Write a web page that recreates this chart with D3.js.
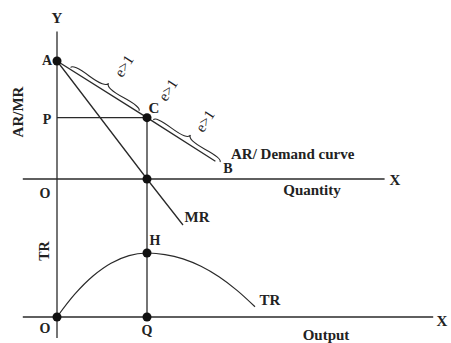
<!DOCTYPE html>
<html><head><meta charset="utf-8">
<script src="https://cdn.jsdelivr.net/npm/d3@7"></script>
<style>
html,body{margin:0;padding:0;background:#fff;}
svg text{font-family:"Liberation Serif","DejaVu Serif",serif;font-weight:bold;fill:#222;}
</style></head>
<body><svg id="c" width="451" height="343"></svg>
<script>
// Data (conceptual units)
const demandQ = [0, 5, 8.8];
const demandAR = [10, 5.2, 1.5];
const mrQ = [0, 5, 7];
const mrVal = [10, 0, -3.9];
const trQ = [0, 1, 2, 3, 4, 5, 6, 7, 8, 9, 10, 11];
const trVal = [0, 9, 16, 21, 24, 25, 24.4, 22.7, 19.8, 15.7, 10.4, 4.0];
const eqQ = 5;          // Q output where MR = 0
const elasticLabels = ["e>1", "e>1", "e>1"];

const svg = d3.select("#c");
const x = d3.scaleLinear().domain([0, 10]).range([57, 237]);
const yTop = d3.scaleLinear().domain([0, 10]).range([179, 61]);
const yBot = d3.scaleLinear().domain([0, 25]).range([317, 253]);

const ink = "#2a2a2a";
const line = (pts) => svg.append("path").attr("d", d3.line()(pts))
  .attr("fill", "none").attr("stroke", ink).attr("stroke-width", 1.3);

// axes
line([[x(0), yTop(12.5)], [x(0), yBot(-8.2)]]);          // Y axis
line([[x(-1.9), yTop(0)], [x(18.2), yTop(0)]]);          // upper X
line([[x(-1.9), yBot(0)], [x(20.9), yBot(0)]]);          // lower X

// demand / AR
const arPts = demandQ.map((q, i) => [x(q), yTop(demandAR[i])]);
line(arPts);
// MR
line(mrQ.map((q, i) => [x(q), yTop(mrVal[i])]));
// P horizontal
const cAR = demandAR[1];
line([[x(0), yTop(cAR)], [x(eqQ), yTop(cAR)]]);
// vertical C -> Q
line([[x(eqQ), yTop(cAR)], [x(eqQ), yBot(0)]]);
// TR curve
svg.append("path")
  .attr("d", d3.line().curve(d3.curveCatmullRom)(trQ.map((q, i) => [x(q), yBot(trVal[i])])))
  .attr("fill", "none").attr("stroke", ink).attr("stroke-width", 1.2);

// braces along AR line
const arAt = q => {
  const s = (demandAR[2] - demandAR[0]) / (demandQ[2] - demandQ[0]);
  return demandAR[0] + s * q;
};
function brace(x1, y1, x2, y2, w, q) {
  let dx = x1 - x2, dy = y1 - y2; const len = Math.hypot(dx, dy);
  dx /= len; dy /= len;
  const qx1 = x1 + q * w * dy, qy1 = y1 - q * w * dx;
  const qx2 = (x1 - .25 * len * dx) + (1 - q) * w * dy, qy2 = (y1 - .25 * len * dy) - (1 - q) * w * dx;
  const tx1 = (x1 - .5 * len * dx) + w * dy, ty1 = (y1 - .5 * len * dy) - w * dx;
  const qx3 = x2 + q * w * dy, qy3 = y2 - q * w * dx;
  const qx4 = (x1 - .75 * len * dx) + (1 - q) * w * dy, qy4 = (y1 - .75 * len * dy) - (1 - q) * w * dx;
  return `M${x1},${y1}Q${qx1},${qy1} ${qx2},${qy2}T${tx1},${ty1}M${x2},${y2}Q${qx3},${qy3} ${qx4},${qy4}T${tx1},${ty1}`;
}
[[0.7, 4.5], [5.3, 9.0]].forEach(([a, b]) => {
  const p1 = [x(a) + 1, yTop(arAt(a)) - 1.5], p2 = [x(b) + 1, yTop(arAt(b)) - 1.5];
  svg.append("path").attr("d", brace(p1[0], p1[1], p2[0], p2[1], -7, 0.6))
    .attr("fill", "none").attr("stroke", ink).attr("stroke-width", 1.1);
});

// elasticity labels, perpendicular to line
const ang = Math.atan2(yTop(demandAR[2]) - yTop(demandAR[0]), x(demandQ[2]) - x(demandQ[0])) * 180 / Math.PI;
[[124, 66], [168, 90], [205, 121]].forEach(([px, py], i) => {
  svg.append("text").attr("transform", `translate(${px},${py}) rotate(${ang - 90})`)
    .attr("text-anchor", "middle").attr("dominant-baseline", "central")
    .attr("font-size", 15).style("font-weight", "normal").text(elasticLabels[i]);
});

// dots
const dots = [[x(0), yTop(10)], [x(eqQ), yTop(cAR)], [x(eqQ), yTop(0)], [x(eqQ), yBot(25)], [x(0), yBot(0)], [x(eqQ), yBot(0)]];
svg.selectAll("circle.d").data(dots).enter().append("circle")
  .attr("cx", d => d[0]).attr("cy", d => d[1]).attr("r", 4.5).attr("fill", "#111");

// labels
const T = (t, px, py, size = 14, anchor = "middle") =>
  svg.append("text").attr("x", px).attr("y", py).attr("font-size", size)
    .attr("text-anchor", anchor).attr("dominant-baseline", "central").text(t);
T("Y", x(0), 18, 15);
T("A", x(0) - 10, yTop(10) - 1);
T("C", x(eqQ) + 7, yTop(cAR) - 10, 15);
T("P", x(0) - 10, yTop(cAR) + 2);
T("O", x(0) - 12, yTop(0) + 14);
T("B", 228, 168);
T("AR/ Demand curve", 231, 154, 15, "start");
T("X", 395, yTop(0) + 1, 15);
T("Quantity", 312, 190, 15);
T("MR", 197, 217, 15);
T("H", 155, 240);
T("TR", 270, 300, 15);
T("O", x(0) - 12, yBot(0) + 11);
T("Q", x(eqQ), yBot(0) + 13);
T("X", 442, yBot(0) + 4, 15);
T("Output", 326, 335, 15);
svg.append("text").attr("transform", "translate(18,112) rotate(-90)")
  .attr("text-anchor", "middle").attr("dominant-baseline", "central").attr("font-size", 15).text("AR/MR");
svg.append("text").attr("transform", "translate(44,251) rotate(-90)")
  .attr("text-anchor", "middle").attr("dominant-baseline", "central").attr("font-size", 14).text("TR");
</script></body></html>
